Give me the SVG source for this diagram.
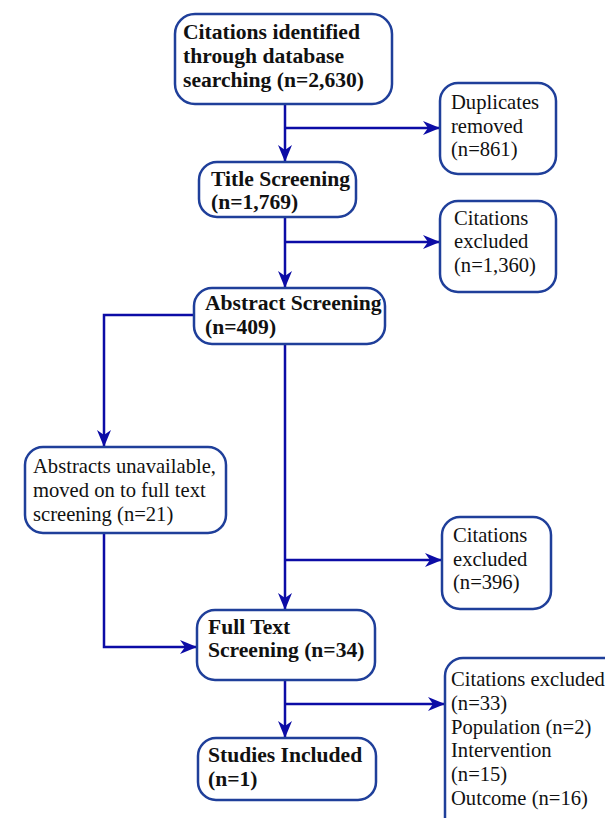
<svg xmlns="http://www.w3.org/2000/svg" width="605" height="818" viewBox="0 0 605 818">
<style>
.box{fill:#fff;stroke:#1f3f9a;stroke-width:2.5}
.t{font-family:"Liberation Serif",serif;font-size:20.6px;fill:#111}
.b{font-weight:bold;font-size:21.6px}
.c{fill:none;stroke:#0c0ca6;stroke-width:2.5}
</style>
<defs>
<marker id="ah" markerUnits="userSpaceOnUse" markerWidth="18" markerHeight="14" refX="17" refY="7" orient="auto">
<path d="M0,0 L17,7 L0,14 L5,7 z" fill="#0c0ca6"/>
</marker>
</defs>
<g id="connectors">
<path class="c" d="M285,104 V162" marker-end="url(#ah)"/>
<path class="c" d="M285,128 H440" marker-end="url(#ah)"/>
<path class="c" d="M285,217 V288" marker-end="url(#ah)"/>
<path class="c" d="M285,242 H440" marker-end="url(#ah)"/>
<path class="c" d="M194,315 H104 V447" marker-end="url(#ah)"/>
<path class="c" d="M285,344 V610" marker-end="url(#ah)"/>
<path class="c" d="M285,560 H442" marker-end="url(#ah)"/>
<path class="c" d="M104,533 V647 H197" marker-end="url(#ah)"/>
<path class="c" d="M285,680 V738" marker-end="url(#ah)"/>
<path class="c" d="M285,704 H445" marker-end="url(#ah)"/>
</g>
<g id="n1">
<rect class="box" x="175" y="14" width="217" height="90" rx="20"/>
<text class="t b"><tspan x="183" y="39">Citations identified</tspan><tspan x="183" y="63">through database</tspan><tspan x="183" y="87">searching (n=2,630)</tspan></text>
</g>
<g id="n2">
<rect class="box" x="440" y="83" width="116" height="91" rx="18"/>
<text class="t"><tspan x="451" y="109">Duplicates</tspan><tspan x="451" y="133">removed</tspan><tspan x="451" y="156">(n=861)</tspan></text>
</g>
<g id="n3">
<rect class="box" x="199" y="162" width="157" height="55" rx="18"/>
<text class="t b"><tspan x="211" y="186">Title Screening</tspan><tspan x="211" y="209">(n=1,769)</tspan></text>
</g>
<g id="n4">
<rect class="box" x="440" y="201" width="116" height="91" rx="18"/>
<text class="t"><tspan x="454" y="225">Citations</tspan><tspan x="454" y="248">excluded</tspan><tspan x="454" y="272">(n=1,360)</tspan></text>
</g>
<g id="n5">
<rect class="box" x="194" y="288" width="191" height="56" rx="18"/>
<text class="t b"><tspan x="205" y="310">Abstract Screening</tspan><tspan x="205" y="334">(n=409)</tspan></text>
</g>
<g id="n6">
<rect class="box" x="25" y="447" width="201" height="86" rx="18"/>
<text class="t"><tspan x="33" y="473">Abstracts unavailable,</tspan><tspan x="33" y="497">moved on to full text</tspan><tspan x="33" y="521">screening (n=21)</tspan></text>
</g>
<g id="n7">
<rect class="box" x="442" y="517" width="109" height="92" rx="18"/>
<text class="t"><tspan x="453" y="542">Citations</tspan><tspan x="453" y="566">excluded</tspan><tspan x="453" y="589">(n=396)</tspan></text>
</g>
<g id="n8">
<rect class="box" x="197" y="610" width="178" height="70" rx="18"/>
<text class="t b"><tspan x="208" y="634">Full Text</tspan><tspan x="208" y="657">Screening (n=34)</tspan></text>
</g>
<g id="n9">
<rect class="box" x="198" y="738" width="178" height="62" rx="18"/>
<text class="t b"><tspan x="208" y="762">Studies Included</tspan><tspan x="208" y="786">(n=1)</tspan></text>
</g>
<g id="n10">
<rect class="box" x="445" y="658" width="200" height="180" rx="18"/>
<text class="t"><tspan x="451" y="686">Citations excluded</tspan><tspan x="451" y="710">(n=33)</tspan><tspan x="451" y="734">Population (n=2)</tspan><tspan x="451" y="757">Intervention</tspan><tspan x="451" y="781">(n=15)</tspan><tspan x="451" y="805">Outcome (n=16)</tspan></text>
</g>
</svg>
